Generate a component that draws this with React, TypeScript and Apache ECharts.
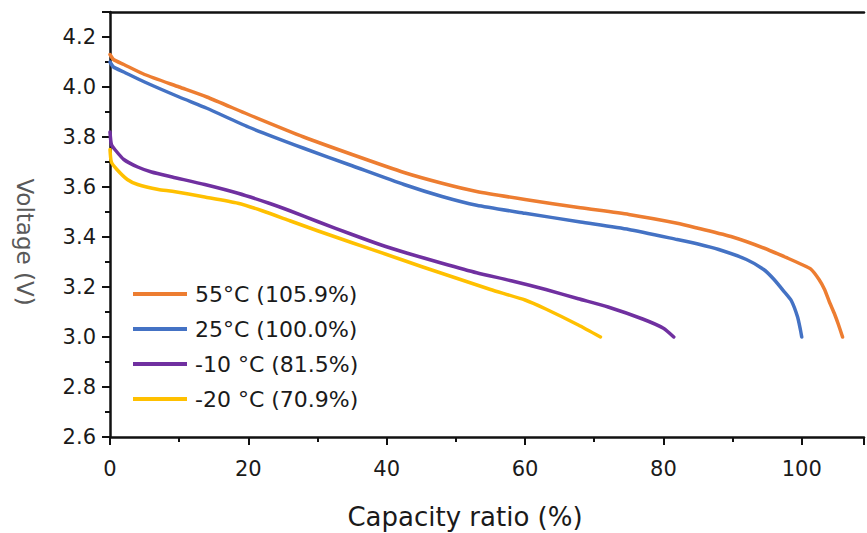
import React, { useEffect, useRef } from "react";
import * as echarts from "echarts";

const seriesNames = ["55°C (105.9%)", "25°C (100.0%)", "-10 °C (81.5%)", "-20 °C (70.9%)"];
const seriesColors = ["#ED7D31", "#4472C4", "#7030A0", "#FFC000"];

const curve55: [number, number][] = [
  [0, 4.13], [0.5, 4.11], [2, 4.09], [5, 4.05], [10, 4.0], [14, 3.96], [20, 3.89],
  [28, 3.8], [35, 3.73], [42.5, 3.658], [48, 3.615], [53, 3.582], [60, 3.55], [68, 3.517],
  [75, 3.49], [82, 3.455], [85, 3.435], [90, 3.4], [94.6, 3.355], [98, 3.315],
  [100, 3.29], [101.3, 3.272], [102.5, 3.23], [103.3, 3.19], [104, 3.14], [104.7, 3.095],
  [105.3, 3.05], [105.9, 3.0],
];
const curve25: [number, number][] = [
  [0, 4.1], [0.5, 4.08], [2, 4.06], [5, 4.02], [10, 3.96], [14, 3.915], [20, 3.84],
  [28, 3.755], [35, 3.685], [42.5, 3.61], [48, 3.562], [53, 3.527], [60, 3.495], [68, 3.46],
  [75, 3.43], [82, 3.39], [85, 3.372], [88, 3.35], [92, 3.31], [94.5, 3.27], [96, 3.23],
  [97.5, 3.18], [98.5, 3.145], [99.4, 3.08], [99.8, 3.03], [100, 3.0],
];
const curveM10: [number, number][] = [
  [0, 3.82], [0.2, 3.77], [0.7, 3.75], [2, 3.71], [4, 3.68], [6, 3.66], [9, 3.64],
  [13.7, 3.61], [18.5, 3.575], [23, 3.535], [26, 3.505], [30, 3.462], [35, 3.41],
  [39, 3.37], [43, 3.335], [48, 3.295], [53, 3.257], [58, 3.225], [63, 3.19],
  [67.7, 3.153], [72, 3.12], [77, 3.072], [80, 3.035], [81.5, 3.0],
];
const curveM20: [number, number][] = [
  [0, 3.75], [0.2, 3.7], [1, 3.67], [2.5, 3.63], [4, 3.61], [7, 3.59], [9, 3.583],
  [13.7, 3.56], [18.5, 3.535], [22, 3.505], [26, 3.465], [30, 3.425], [35, 3.377],
  [40, 3.33], [45, 3.282], [50, 3.236], [55, 3.19], [60, 3.148], [63, 3.112],
  [67.7, 3.048], [70.9, 3.0],
];
const curves = [curve55, curve25, curveM10, curveM20];

const xMin = 0, xMax = 109, xMajor = 20, xMinor = 10;
const yMin = 2.6, yMax = 4.3, yMajor = 0.2, yMinor = 0.1;

export default function App() {
  const ref = useRef<HTMLDivElement>(null);
  useEffect(() => {
    if (!ref.current) return;
    const chart = echarts.init(ref.current, undefined, { renderer: "svg" });
    const font = "'DejaVu Sans', sans-serif";
    const black = "#111";
    const hidden = { show: false };
    chart.setOption({
      animation: false,
      backgroundColor: "#ffffff",
      grid: { left: 110, top: 12, bottom: 96, right: 0 },
      xAxis: [
        {
          type: "value", position: "bottom", min: xMin, max: xMax, interval: xMajor,
          splitLine: hidden,
          axisLine: { show: true, onZero: false, lineStyle: { color: black, width: 2.5 } },
          axisTick: { show: true, length: 8, lineStyle: { color: black, width: 2 } },
          axisLabel: {
            margin: 21, fontSize: 21, fontFamily: font, color: "#1a1a1a",
            formatter: (v: number) => (v > 100 ? "" : String(v)),
          },
        },
        {
          type: "value", position: "bottom", min: xMin, max: xMax, interval: xMinor,
          splitLine: hidden, axisLabel: hidden,
          axisLine: { show: false, onZero: false },
          axisTick: { show: true, length: 5, lineStyle: { color: black, width: 2 } },
        },
        {
          type: "value", position: "top", min: xMin, max: xMax,
          splitLine: hidden, axisLabel: hidden, axisTick: hidden,
          axisLine: { show: true, onZero: false, lineStyle: { color: black, width: 2.5 } },
        },
      ],
      yAxis: [
        {
          type: "value", position: "left", min: yMin, max: yMax, interval: yMajor,
          splitLine: hidden,
          axisLine: { show: true, onZero: false, lineStyle: { color: black, width: 2.5 } },
          axisTick: { show: true, length: 8, lineStyle: { color: black, width: 2 } },
          axisLabel: {
            margin: 14, fontSize: 21, fontFamily: font, color: "#1a1a1a",
            formatter: (v: number) => (v > 4.25 ? "" : v.toFixed(1)),
          },
        },
        {
          type: "value", position: "left", min: yMin, max: yMax, interval: yMinor,
          splitLine: hidden, axisLabel: hidden,
          axisLine: { show: false, onZero: false },
          axisTick: { show: true, length: 5, lineStyle: { color: black, width: 2 } },
        },
      ],
      legend: {
        orient: "vertical", left: 128, top: 278, itemWidth: 54, itemHeight: 4,
        itemGap: 13, icon: "rect",
        textStyle: { fontSize: 22, fontFamily: font, color: "#1a1a1a", lineHeight: 22, padding: [0, 0, 0, 3] },
        data: seriesNames,
      },
      graphic: [
        {
          type: "text", x: 465, y: 517,
          style: {
            text: "Capacity ratio (%)", fontSize: 26, fontFamily: font, fill: "#1a1a1a",
            textAlign: "center", textVerticalAlign: "middle",
          },
        },
        {
          type: "text", x: 25, y: 242, rotation: -Math.PI / 2,
          style: {
            text: "Voltage (V)", fontSize: 23, fontFamily: font, fill: "#595959",
            textAlign: "center", textVerticalAlign: "middle",
          },
        },
      ],
      series: curves.map((d, i) => ({
        name: seriesNames[i],
        type: "line",
        xAxisIndex: 0,
        yAxisIndex: 0,
        data: d,
        showSymbol: false,
        smooth: 0.2,
        color: seriesColors[i],
        lineStyle: { color: seriesColors[i], width: 3.5, join: "round", cap: "round" },
        itemStyle: { color: seriesColors[i] },
        z: 3 + i,
      })),
    });
    return () => chart.dispose();
  }, []);
  return (
    <div
      ref={ref}
      style={{ position: "fixed", left: 0, top: 0, width: 867, height: 533, background: "#fff" }}
    />
  );
}
